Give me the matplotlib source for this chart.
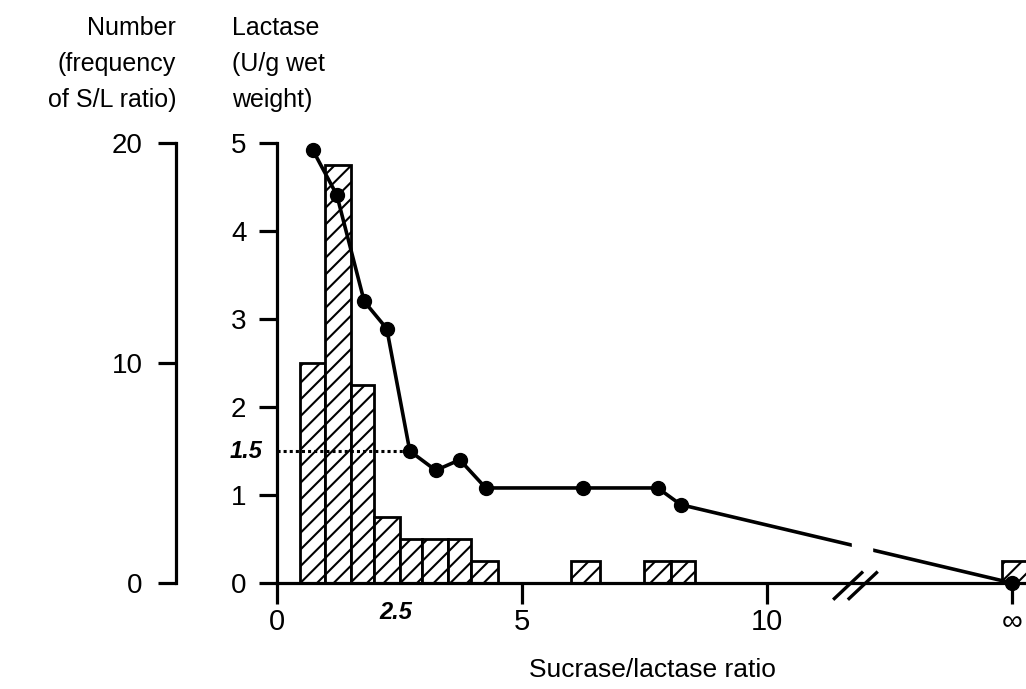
import matplotlib
matplotlib.use("Agg")
import matplotlib.pyplot as plt

plt.rcParams['font.family'] = ['Liberation Sans', 'DejaVu Sans']
plt.rcParams['hatch.linewidth'] = 1.5

# histogram of S/L ratios (bin edges in ratio units, counts)
bin_left = [0.46, 0.98, 1.51, 1.98, 2.51, 2.96, 3.49, 3.96, 6.0, 7.49, 8.05, 14.79]
bin_right = [0.98, 1.51, 1.98, 2.51, 2.96, 3.49, 3.96, 4.51, 6.59, 8.05, 8.54, 15.35]
counts = [10, 19, 9, 3, 2, 2, 2, 1, 1, 1, 1, 1]

# lactase activity vs ratio (15 stands for infinity)
ratio = [0.73, 1.22, 1.78, 2.24, 2.71, 3.24, 3.73, 4.26, 6.24, 7.77, 8.24, 15.0]
lactase = [4.92, 4.41, 3.20, 2.89, 1.50, 1.28, 1.40, 1.08, 1.08, 1.08, 0.89, 0.0]

x_ticks = [0, 5, 10, 15]
x_ticklabels = ['0', '5', '10', '\u221e']
count_ticks = [0, 10, 20]
lact_ticks = [0, 1, 2, 3, 4, 5]

W, H = 1026, 689
fig = plt.figure(figsize=(W / 100, H / 100), dpi=100)
ax = fig.add_axes([277 / W, (H - 583) / H, (W - 277) / W, 440 / H])
axl = ax.twinx()

lw = 2.3
# bars on the count axis
widths = [r - l for l, r in zip(bin_left, bin_right)]
ax.bar(bin_left, counts, width=widths, align='edge', facecolor='white',
       edgecolor='black', hatch='//', linewidth=2.0, zorder=2)
ax.set_xlim(0, (W - 277) / 49)
ax.set_ylim(0, 20)
ax.set_yticks(count_ticks)
ax.set_xticks(x_ticks)
ax.set_xticklabels(x_ticklabels)
for s in ['top', 'right']:
    ax.spines[s].set_visible(False)
ax.spines['left'].set_position(('outward', 72.7))
ax.spines['left'].set_linewidth(lw)
ax.spines['bottom'].set_linewidth(lw)
ax.tick_params(axis='y', direction='out', length=13, width=lw, pad=11, labelsize=20)
ax.tick_params(axis='x', direction='out', length=15, width=lw, pad=3, labelsize=21)

# lactase line on twin axis, drawn on the left
axl.set_ylim(0, 5)
axl.yaxis.tick_left()
axl.spines['right'].set_visible(False)
axl.spines['top'].set_visible(False)
axl.spines['bottom'].set_visible(False)
axl.spines['left'].set_visible(True)
axl.spines['left'].set_linewidth(lw)
axl.set_yticks(lact_ticks)
axl.tick_params(axis='y', direction='out', length=13, width=lw, pad=9, labelsize=20)

axl.hlines(lactase[4], 0, ratio[4], colors='black', linestyles=(0, (1, 1.0)),
           linewidth=2.2, zorder=3)
axl.plot(ratio, lactase, color='black', linewidth=2.6, marker='o',
         markersize=10, zorder=4, clip_on=False)
# gap in the line at the axis break
axl.axvspan(11.73, 12.15, ymin=0.05, ymax=0.13, color='white', zorder=5)
# break marks on the x axis
for x0 in [11.35, 11.65]:
    axl.plot([x0, x0 + 0.61], [-0.19, 0.13], color='black', linewidth=2.4,
             clip_on=False, zorder=6, solid_capstyle='butt')

axl.text(-0.29, 1.5, '1.5', ha='right', va='center', fontsize=17,
         style='italic', fontweight='bold')
axl.text(2.43, -0.33, '2.5', ha='center', va='center', fontsize=17,
         style='italic', fontweight='bold')

# axis titles
title_kw = dict(fontsize=18, va='baseline')
for i, line in enumerate(['Number', '(frequency', 'of S/L ratio)']):
    fig.text(176 / W, 1 - (35 + 36 * i) / H, line, ha='right', **title_kw)
for i, line in enumerate(['Lactase', '(U/g wet', 'weight)']):
    fig.text(232 / W, 1 - (35 + 36 * i) / H, line, ha='left', **title_kw)
fig.text(652 / W, 1 - 677 / H, 'Sucrase/lactase ratio', ha='center',
         va='baseline', fontsize=19)

fig.savefig('out.png', dpi=100)
